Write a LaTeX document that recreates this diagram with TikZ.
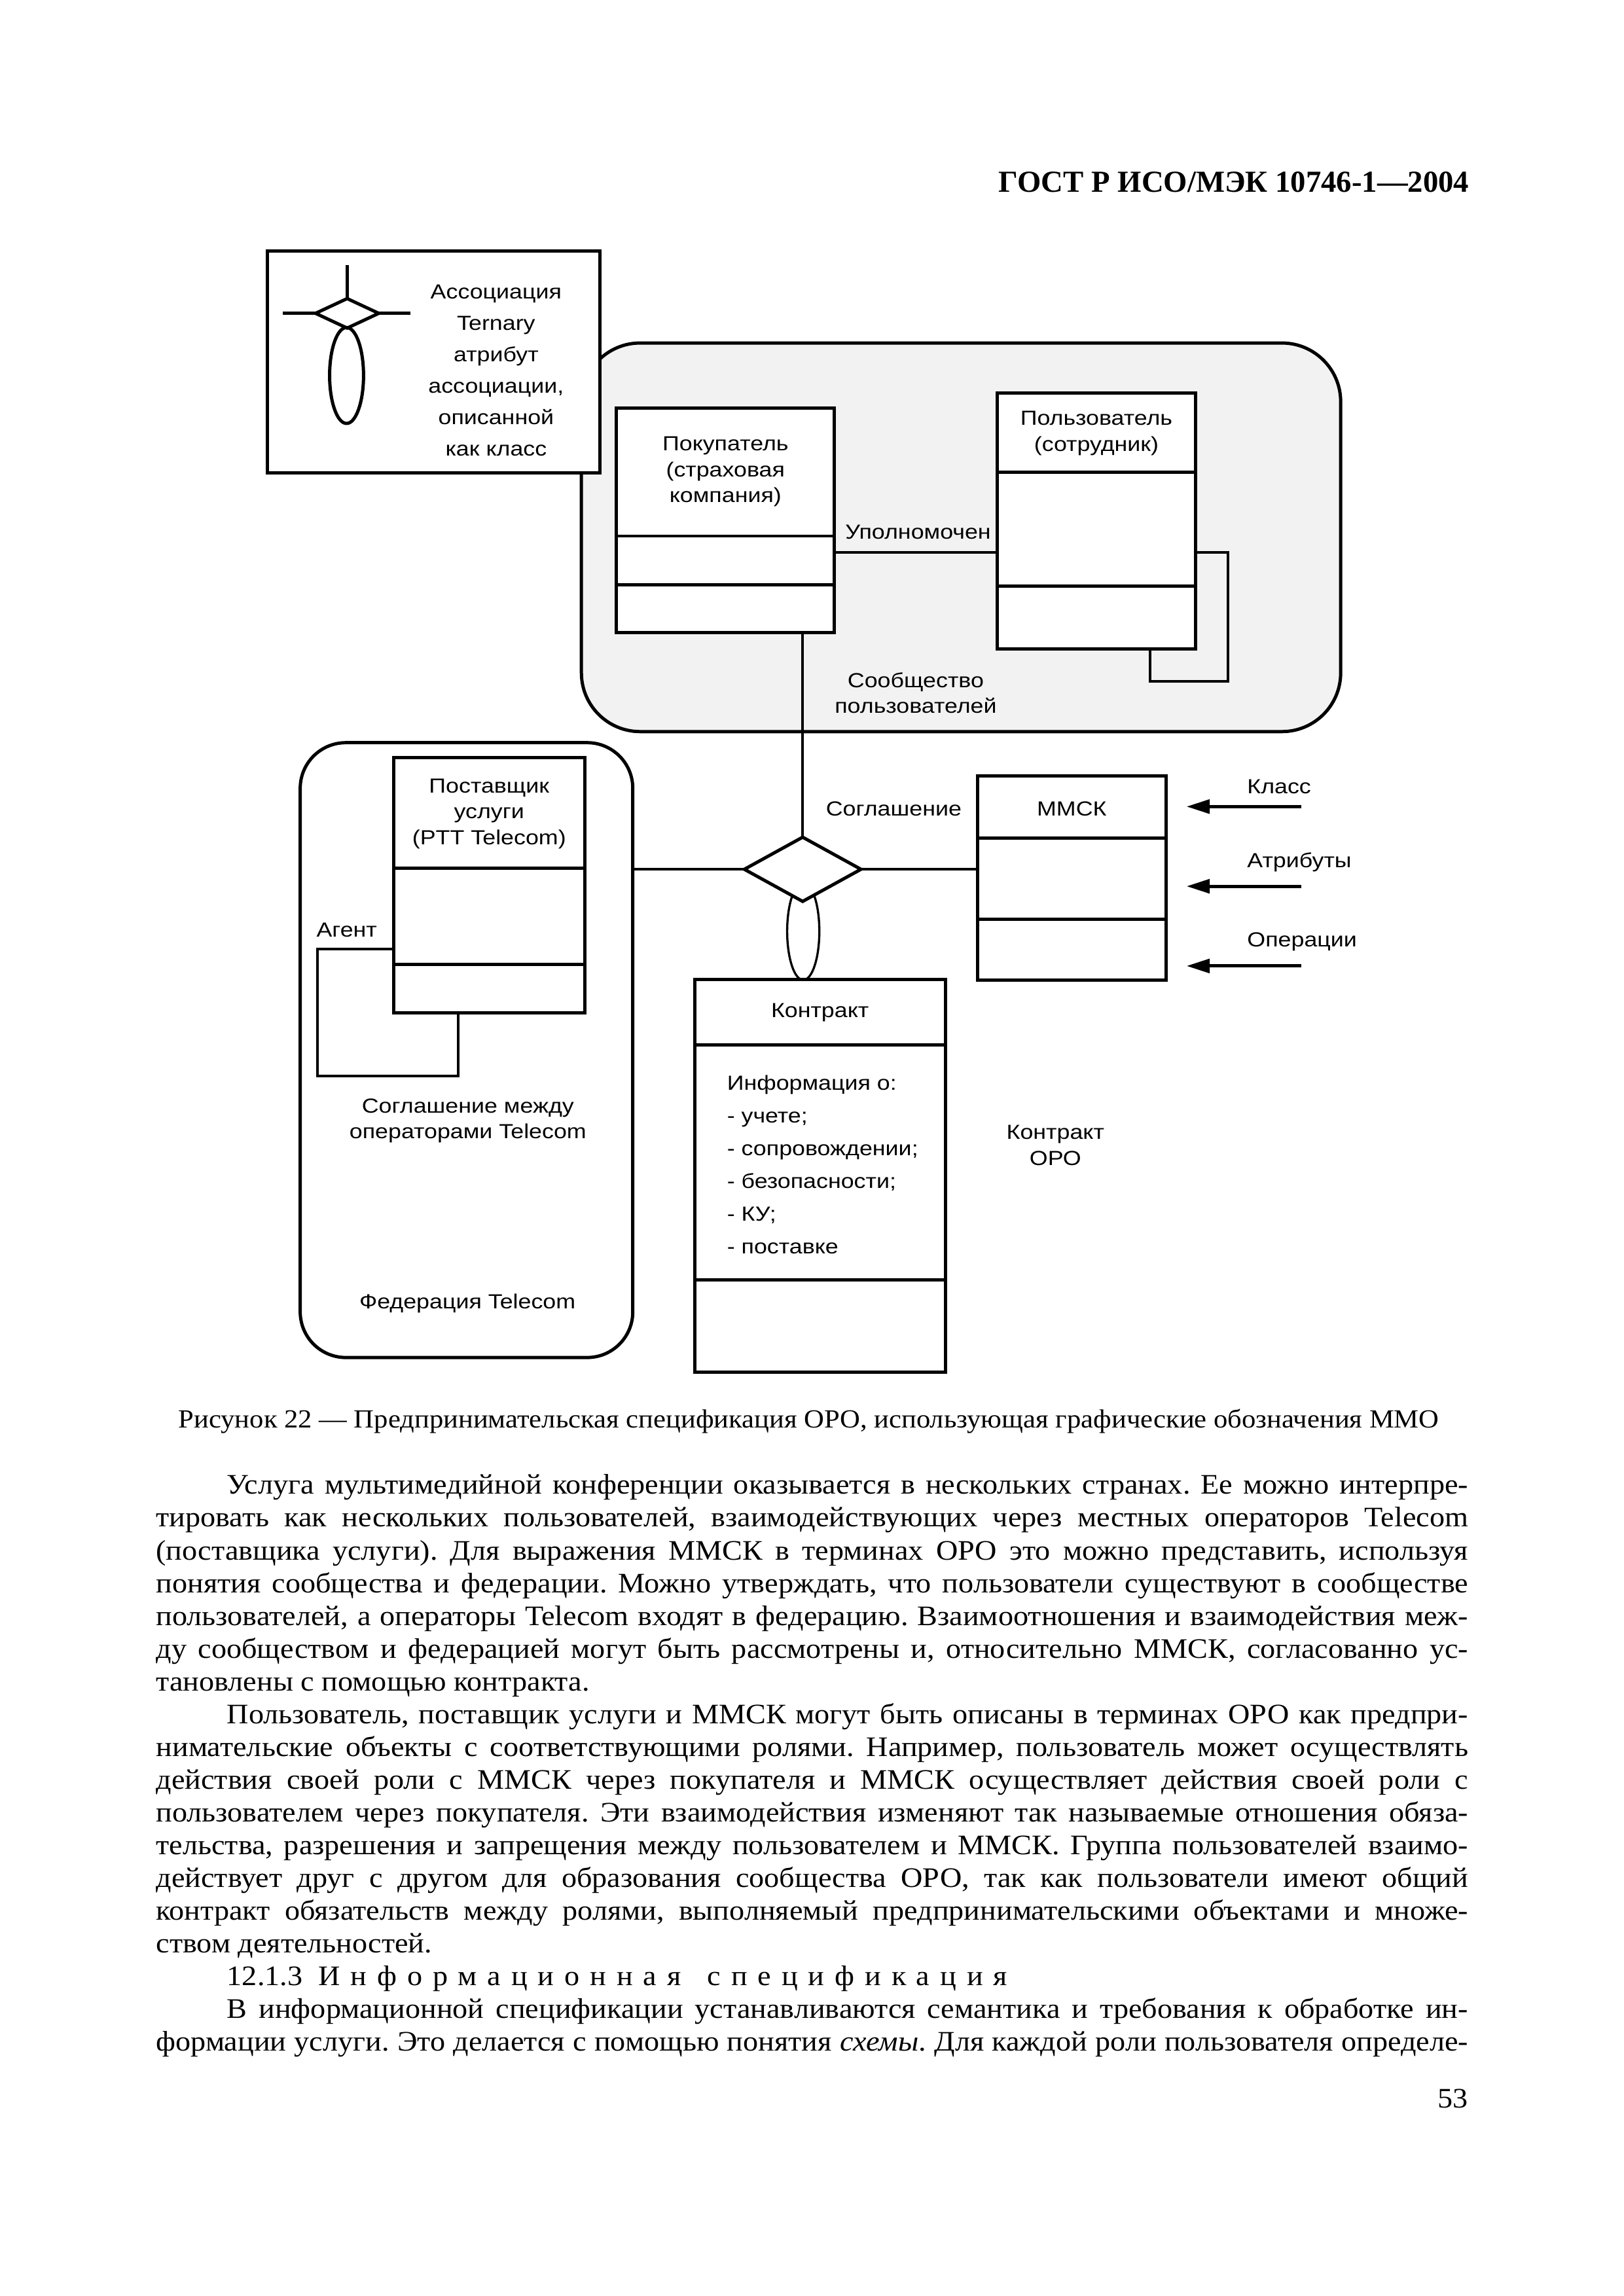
\documentclass[tikz,border=0pt]{standalone}
\usepackage{fontspec}
\setmainfont{Liberation Serif}
\newfontfamily\bodyfont[FakeStretch=1.07]{Liberation Serif}
\newfontfamily\dsans[FakeStretch=1.15]{Liberation Sans}
\usetikzlibrary{shapes.geometric,arrows.meta}
\newcommand\dpx{0.190909mm}
\newcommand\jline[2]{\makebox[#1][s]{#2}}
\frenchspacing
\begin{document}
\frenchspacing
\begin{tikzpicture}[x=0.190909mm, y=-0.190909mm,
  every node/.style={inner sep=0pt, outer sep=0pt},
  dtxt/.style={font=\dsans\fontsize{7.5}{9.5}\selectfont, align=center},
  cls/.style={draw, line width=1.2pt, fill=white, rectangle, anchor=north west},
  dv/.style={line width=1.2pt},
  ln/.style={line width=1.0pt},
  body/.style={font=\bodyfont\fontsize{10.4}{12}\selectfont, anchor=base west},
  arr/.style={line width=1.2pt, -{Triangle[length=3mm,width=1.8mm]}},
  comm/.style={draw, line width=1.2pt, rounded corners=7.6mm, fill=black!5, rectangle, anchor=north west},
  fedst/.style={draw, line width=1.2pt, rounded corners=5.9mm, fill=white, rectangle, anchor=north west},
  dia/.style={draw, diamond, fill=white},
  ell/.style={draw, ellipse, fill=none},
]
\fill[white] (0,0) rectangle (1100,1555.7);
\useasboundingbox (0,0) rectangle (1100,1555.7);

% header
\node[font=\bfseries\fontsize{11.25}{13}\selectfont, anchor=base east] (hdr) at (995.2,130.2) {ГОСТ Р ИСО/МЭК 10746-1—2004};

% community region
\node[comm, minimum width=514.4*\dpx, minimum height=263.3*\dpx] (comm) at (393.9,232.4) {};

% association legend box
\node[cls, minimum width=225*\dpx, minimum height=150.1*\dpx] (assoc) at (181.3,170.1) {};
\node[dia, line width=1.2pt, minimum width=42.8*\dpx, minimum height=20*\dpx] (sd) at (235.2,212.3) {};
\coordinate (sdL) at (191.6,212.3);
\coordinate (sdR) at (278,212.3);
\coordinate (sdT) at (235.2,179.7);
\draw[dv] (sdL) -- (sd.west);
\draw[dv] (sd.east) -- (sdR);
\draw[dv] (sdT) -- (sd.north);
\node[ell, line width=1.2pt, minimum width=23*\dpx, minimum height=65*\dpx] (se) at (234.8,254.4) {};
\node[dtxt, font=\dsans\fontsize{7.5}{11.6}\selectfont] (assoctxt) at (336.1,251) {Ассоциация\\Ternary\\атрибут\\ассоциации,\\описанной\\как класс};

% buyer
\node[cls, minimum width=147.7*\dpx, minimum height=152*\dpx] (buyer) at (417.7,276.6) {};
\draw[dv] (417.7,363.2) -- (565.4,363.2);
\draw[dv] (417.7,396.3) -- (565.4,396.3);
\node[dtxt] (buyertxt) at (491.5,319.6) {Покупатель\\(страховая\\компания)};

% user
\node[cls, minimum width=134.2*\dpx, minimum height=173.2*\dpx] (user) at (675.7,266.4) {};
\draw[dv] (675.7,319.9) -- (809.9,319.9);
\draw[dv] (675.7,397.2) -- (809.9,397.2);
\node[dtxt] (usertxt) at (742.8,293.5) {Пользователь\\(сотрудник)};

\coordinate (yUpl) at (0,374.2);
\draw[ln] (buyer.east |- yUpl) -- (user.west |- yUpl);
\node[dtxt] (upl) at (622,360.6) {Уполномочен};
\coordinate (lpA) at (832,461.7);
\coordinate (lpB) at (779.3,0);
\draw[ln] (user.east |- yUpl) -| (lpA) -| (user.south -| lpB);
\node[dtxt, font=\dsans\fontsize{7.5}{9.2}\selectfont] (commtxt) at (620.4,469.5) {Сообщество\\пользователей};

% federation
\node[fedst, minimum width=225.3*\dpx, minimum height=416.6*\dpx] (fed) at (203.4,503.2) {};
\node[cls, minimum width=129.6*\dpx, minimum height=172.8*\dpx] (prov) at (266.6,513.5) {};
\draw[dv] (266.6,588.4) -- (396.2,588.4);
\draw[dv] (266.6,653.5) -- (396.2,653.5);
\node[dtxt] (provtxt) at (331.4,551.3) {Поставщик\\услуги\\(PTT Telecom)};
\coordinate (yAg) at (0,643.1);
\coordinate (agA) at (215,729);
\coordinate (agB) at (310.4,0);
\draw[ln] (prov.west |- yAg) -| (agA) -| (prov.south -| agB);
\node[dtxt] (agent) at (234.9,630.1) {Агент};
\node[dtxt] (fedagr) at (317,759.3) {Соглашение между\\операторами Telecom};
\node[dtxt] (fedtxt) at (316.7,883.1) {Федерация Telecom};

% MMSK
\node[cls, minimum width=127.6*\dpx, minimum height=138.3*\dpx] (mmsk) at (662.3,525.8) {};
\draw[dv] (662.3,568) -- (789.9,568);
\draw[dv] (662.3,622.7) -- (789.9,622.7);
\node[dtxt] (mmsktxt) at (726.1,548) {ММСК};
\node[dtxt] (soglas) at (605.5,548) {Соглашение};

% arrows
\coordinate (kS) at (881.7,546.5); \coordinate (kE) at (803.9,546.5);
\coordinate (aS) at (881.7,600.5); \coordinate (aE) at (803.9,600.5);
\coordinate (oS) at (881.7,654.5); \coordinate (oE) at (803.9,654.5);
\draw[arr] (kS) -- (kE);
\draw[arr] (aS) -- (aE);
\draw[arr] (oS) -- (oE);
\node[dtxt, anchor=west] (lk) at (845,533.2) {Класс};
\node[dtxt, anchor=west] (la) at (845,584.3) {Атрибуты};
\node[dtxt, anchor=west] (lo) at (845,638.2) {Операции};

% contract
\node[cls, minimum width=169.7*\dpx, minimum height=265.8*\dpx] (contr) at (470.7,663.8) {};
\draw[dv] (470.7,707.8) -- (640.4,707.8);
\draw[dv] (470.7,867.3) -- (640.4,867.3);
\node[dtxt] (contrtxt) at (555.5,686) {Контракт};
\node[dtxt, font=\dsans\fontsize{7.5}{12.05}\selectfont, align=left, anchor=west] (info) at (492.6,789) {Информация о:\\- учете;\\- сопровождении;\\- безопасности;\\- КУ;\\- поставке};
\node[dtxt] (oro) at (715,776) {Контракт\\ОРО};

% central association
\node[ell, line width=0.8pt, minimum width=21.8*\dpx, minimum height=66*\dpx] (ell) at (544.2,631) {};
\node[dia, line width=1.2pt, minimum width=79*\dpx, minimum height=43.5*\dpx] (agr) at (543.8,589) {};
\coordinate (xV) at (543.8,0);
\draw[ln] (buyer.south -| xV) -- (agr.north);
\draw[ln] (fed.east |- agr) -- (agr.west);
\draw[ln] (agr.east) -- (mmsk.west |- agr);

% caption
\node[font=\bodyfont\fontsize{9.6}{12}\selectfont, anchor=base] (cap) at (548,967.4) {Рисунок 22 — Предпринимательская спецификация ОРО, использующая графические обозначения ММО};

% body text
\node[body] (l1) at (153.8,1012.4) {\jline{160.53mm}{Услуга мультимедийной конференции оказывается в нескольких странах. Ее можно интерпре-}};
\node[body] (l2) at (105.8,1034.6) {\jline{169.7mm}{тировать как нескольких пользователей, взаимодействующих через местных операторов Telecom}};
\node[body] (l3) at (105.8,1056.8) {\jline{169.7mm}{(поставщика услуги). Для выражения ММСК в терминах ОРО это можно представить, используя}};
\node[body] (l4) at (105.8,1079.0) {\jline{169.7mm}{понятия сообщества и федерации. Можно утверждать, что пользователи существуют в сообществе}};
\node[body] (l5) at (105.8,1101.2) {\jline{169.7mm}{пользователей, а операторы Telecom входят в федерацию. Взаимоотношения и взаимодействия меж-}};
\node[body] (l6) at (105.8,1123.4) {\jline{169.7mm}{ду сообществом и федерацией могут быть рассмотрены и, относительно ММСК, согласованно ус-}};
\node[body] (l7) at (105.8,1145.5) {тановлены с помощью контракта.};
\node[body] (l8) at (153.8,1167.7) {\jline{160.53mm}{Пользователь, поставщик услуги и ММСК могут быть описаны в терминах ОРО как предпри-}};
\node[body] (l9) at (105.8,1189.9) {\jline{169.7mm}{нимательские объекты с соответствующими ролями. Например, пользователь может осуществлять}};
\node[body] (l10) at (105.8,1212.1) {\jline{169.7mm}{действия своей роли с ММСК через покупателя и ММСК осуществляет действия своей роли с}};
\node[body] (l11) at (105.8,1234.3) {\jline{169.7mm}{пользователем через покупателя. Эти взаимодействия изменяют так называемые отношения обяза-}};
\node[body] (l12) at (105.8,1256.5) {\jline{169.7mm}{тельства, разрешения и запрещения между пользователем и ММСК. Группа пользователей взаимо-}};
\node[body] (l13) at (105.8,1278.7) {\jline{169.7mm}{действует друг с другом для образования сообщества ОРО, так как пользователи имеют общий}};
\node[body] (l14) at (105.8,1300.9) {\jline{169.7mm}{контракт обязательств между ролями, выполняемый предпринимательскими объектами и множе-}};
\node[body] (l15) at (105.8,1323.1) {ством деятельностей.};
\node[body] (l16) at (153.8,1345.2) {12.1.3\hspace{3pt} {\addfontfeature{LetterSpace=37}Информационная\hspace{3pt} спецификация}};
\node[body] (l17) at (153.8,1367.4) {\jline{160.53mm}{В информационной спецификации устанавливаются семантика и требования к обработке ин-}};
\node[body] (l18) at (105.8,1389.6) {\jline{169.7mm}{формации услуги. Это делается с помощью понятия \textit{схемы}. Для каждой роли пользователя определе-}};

\node[font=\bodyfont\fontsize{10.4}{12}\selectfont, anchor=base east] (pg) at (994.5,1428) {53};
\end{tikzpicture}
\end{document}
